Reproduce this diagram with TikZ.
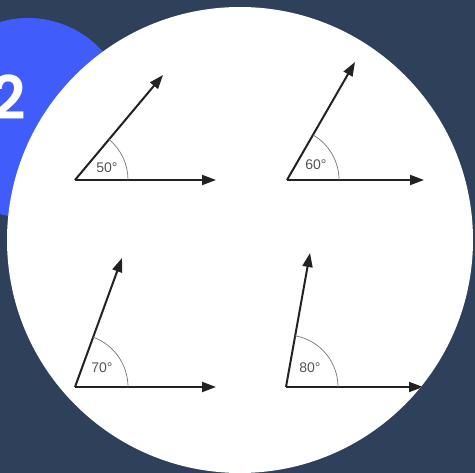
\documentclass[tikz,border=0pt]{standalone}
\usepackage{fontspec}
\setmainfont{Liberation Sans}
\newfontfamily\numfont{Poppins}[UprightFont=* SemiBold]
\usetikzlibrary{arrows.meta,calc}
\definecolor{navy}{RGB}{46,64,90}
\definecolor{badge}{RGB}{64,92,250}
\definecolor{ink}{RGB}{34,34,34}
\definecolor{lbl}{RGB}{85,85,85}
\tikzset{
  ray/.style={draw=ink,line width=2pt,-{Triangle[length=14pt,width=10pt]}},
  anglearc/.style={draw=lbl!80,line width=0.7pt},
  anglelabel/.style={text=lbl,font=\fontsize{14}{14}\selectfont,inner sep=0pt},
}
\begin{document}
\begin{tikzpicture}[x=1pt,y=-1pt]
\useasboundingbox (0,0) rectangle (475,473);
\fill[navy] (0,0) rectangle (475,473);
\fill[badge] (28,118) circle[radius=100];
\node[text=white,font=\numfont\fontsize{60}{60}\selectfont,inner sep=0pt] (num) at (9,97) {2};
\fill[white] (240,240) circle[radius=233];
\begin{scope}
\clip (240,240) circle[radius=233];
% 50
\coordinate (v1) at (75,180);
\coordinate (h1) at (216,180);
\coordinate (s1) at (163,75);
\draw[ray] (v1) -- (h1);
\draw[ray] (v1) -- (s1);
\draw[anglearc] ($(v1)+(53,0)$) arc[start angle=0,end angle=-50,radius=53];
\node[anglelabel] (l1) at (107,168) {50°};
% 60
\coordinate (v2) at (287,180);
\coordinate (h2) at (424,180);
\coordinate (s2) at (355,62);
\draw[ray] (v2) -- (h2);
\draw[ray] (v2) -- (s2);
\draw[anglearc] ($(v2)+(52,0)$) arc[start angle=0,end angle=-60,radius=52];
\node[anglelabel] (l2) at (316,165) {60°};
% 70
\coordinate (v3) at (75,387);
\coordinate (h3) at (216,387);
\coordinate (s3) at (122,258);
\draw[ray] (v3) -- (h3);
\draw[ray] (v3) -- (s3);
\draw[anglearc] ($(v3)+(53,0)$) arc[start angle=0,end angle=-70,radius=53];
\node[anglelabel] (l3) at (102,368) {70°};
% 80
\coordinate (v4) at (286,387);
\coordinate (h4) at (423,387);
\coordinate (s4) at (310,253);
\draw[ray] (v4) -- (h4);
\draw[ray] (v4) -- (s4);
\draw[anglearc] ($(v4)+(52,0)$) arc[start angle=0,end angle=-80,radius=52];
\node[anglelabel] (l4) at (310,368) {80°};
\end{scope}
\end{tikzpicture}
\end{document}
